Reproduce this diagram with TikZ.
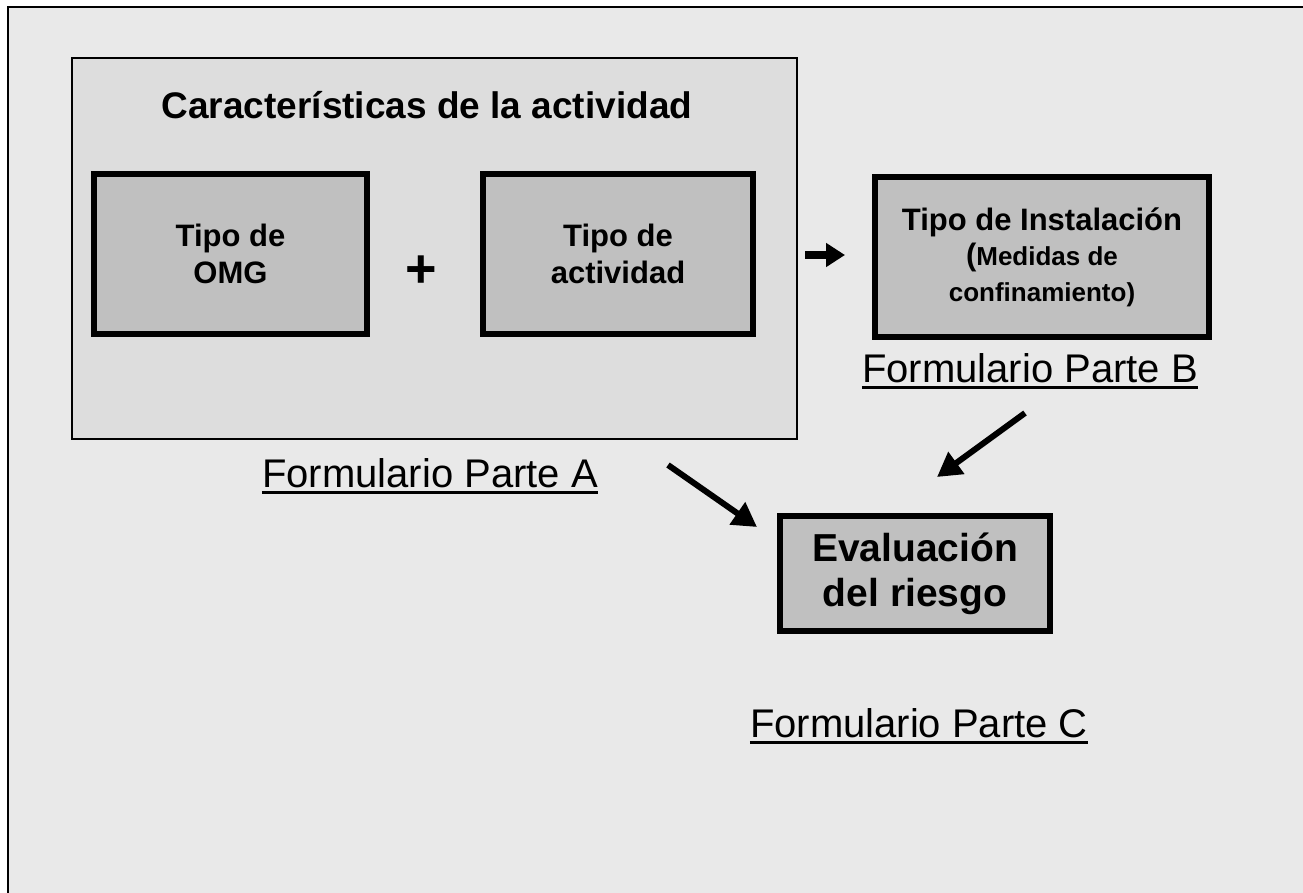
\documentclass[tikz,border=0pt]{standalone}
\usepackage{fontspec}
\setmainfont{Liberation Sans}
\usetikzlibrary{arrows.meta}
\definecolor{pagebg}{HTML}{E9E9E9}
\definecolor{groupbg}{HTML}{DDDDDD}
\definecolor{boxbg}{HTML}{C0C0C0}
\begin{document}
\begin{tikzpicture}[x=1pt,y=-1pt,
  box/.style={draw=black, line width=6pt, fill=boxbg, inner sep=0pt, align=center,
    font=\bfseries\fontsize{31}{37}\selectfont},
  grp/.style={draw=black, line width=1.8pt, fill=groupbg, inner sep=0pt},
  lab/.style={inner sep=0pt, anchor=base, font=\fontsize{40}{48}\selectfont},
  ul/.style={line width=3.5pt},
  bigarrow/.style={line width=6pt, -{Triangle[length=24pt,width=26pt]}},
  smallarrow/.style={line width=8pt, -{Triangle[length=19pt,width=23pt]}},
]
\useasboundingbox (0,0) rectangle (1303,892);
\fill[white] (0,0) rectangle (1303,892);
\begin{scope}
  \clip (0,0) rectangle (1303,892);
  \draw[line width=2pt, fill=pagebg] (7.5,6.5) rectangle (1320,910);
\end{scope}

% group box
\node[grp, minimum width=725pt, minimum height=381pt] (group) at (434.5,248.5) {};
\node[inner sep=0pt, anchor=base, font=\bfseries\fontsize{37}{44}\selectfont] (title) at (427,118) {Características de la actividad};

% inner boxes
\node[box, minimum width=273pt, minimum height=160pt] (omg) at (230.5,254) {Tipo de\\OMG};
\node[font=\bfseries\fontsize{54}{60}\selectfont, inner sep=0pt] (plus) at (421,272) {+};
\node[box, minimum width=270pt, minimum height=160pt] (act) at (618,254) {Tipo de\\actividad};

\node[box, minimum width=334pt, minimum height=160pt, font=\bfseries\fontsize{26}{35.5}\selectfont] (inst) at (1042,257)
  {{\fontsize{31}{36}\selectfont Tipo de Instalación}\\{\fontsize{31}{36}\selectfont(}Medidas de\\confinamiento)};

\node[box, minimum width=270pt, minimum height=115pt, font=\bfseries\fontsize{39}{45}\selectfont] (eval) at (915,573.5)
  {Evaluación\\del riesgo};

% labels
\node[lab] (labA) at (430,487) {Formulario Parte A};
\node[lab] (labB) at (1030,382) {Formulario Parte B};
\node[lab] (labC) at (919,737) {Formulario Parte C};
\foreach \n in {labA,labB,labC}
  \draw[ul] ([yshift=-5.5pt]\n.base west) -- ([yshift=-5.5pt]\n.base east);

% arrows
\coordinate (s1) at (805,255);
\coordinate (s2) at (845,255);
\coordinate (a1) at (668,465);
\coordinate (a2) at (757,527);
\coordinate (b1) at (1025,413);
\coordinate (b2) at (937,477);
\draw[smallarrow] (s1) -- (s2);
\draw[bigarrow] (a1) -- (a2);
\draw[bigarrow] (b1) -- (b2);
\end{tikzpicture}
\end{document}
